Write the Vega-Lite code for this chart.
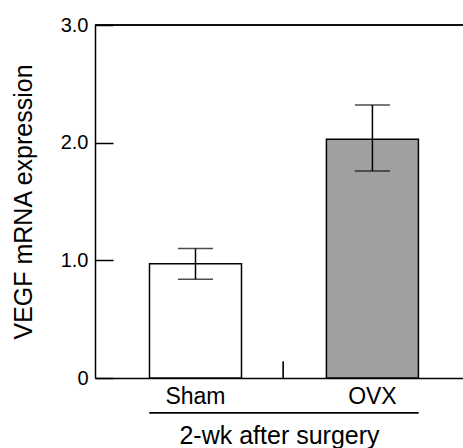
{
  "$schema": "https://vega.github.io/schema/vega-lite/v6.json",
  "autosize": "none",
  "width": 368,
  "height": 353,
  "padding": {"left": 95, "top": 25, "right": 0, "bottom": 70},
  "background": "white",
  "config": {
    "font": "Liberation Sans",
    "view": {"stroke": null},
    "axis": {"labelColor": "black", "titleColor": "black", "domainColor": "black", "tickColor": "black", "domainWidth": 1.5, "tickWidth": 1.5, "grid": false, "titleFontWeight": "normal"}
  },
  "data": {"values": [
    {"group": "Sham", "value": 0.97, "lo": 0.84, "hi": 1.10},
    {"group": "OVX", "value": 2.03, "lo": 1.76, "hi": 2.32}
  ]},
  "encoding": {
    "x": {"field": "group", "type": "nominal", "sort": ["Sham", "OVX"],
      "scale": {"paddingInner": 0.48, "paddingOuter": 0.28, "align": 0.55},
      "axis": {"title": "2-wk after surgery", "labelAngle": 0, "ticks": false, "labelFontSize": 23, "labelPadding": 7, "titleFontSize": 25, "titlePadding": 15}}
  },
  "layer": [
    {
      "mark": {"type": "bar", "stroke": "black", "strokeWidth": 1.5},
      "encoding": {
        "y": {"field": "value", "type": "quantitative",
          "scale": {"domain": [0, 3], "nice": false},
          "axis": {"title": "VEGF mRNA expression", "values": [0, 1, 2, 3], "labelExpr": "datum.value == 0 ? '0' : format(datum.value, '.1f')", "tickSize": -18, "labelPadding": 25, "labelFontSize": 20, "titleFontSize": 25, "titlePadding": 24}},
        "fill": {"field": "group", "type": "nominal", "scale": {"domain": ["Sham", "OVX"], "range": ["#ffffff", "#a0a0a0"]}, "legend": null}
      }
    },
    {
      "mark": {"type": "rule", "color": "black", "strokeWidth": 1.5},
      "encoding": {"y": {"field": "lo", "type": "quantitative"}, "y2": {"field": "hi"}}
    },
    {
      "mark": {"type": "tick", "color": "black", "thickness": 1.5, "size": 35},
      "encoding": {"y": {"field": "lo", "type": "quantitative"}}
    },
    {
      "mark": {"type": "tick", "color": "black", "thickness": 1.5, "size": 35},
      "encoding": {"y": {"field": "hi", "type": "quantitative"}}
    },
    {
      "mark": {"type": "rule", "color": "black", "strokeWidth": 1.5},
      "encoding": {"y": {"datum": 3}, "x": null}
    },
    {
      "mark": {"type": "rule", "color": "black", "strokeWidth": 1.2},
      "encoding": {"x": {"datum": "OVX", "bandPosition": -0.47}, "y": {"datum": 0}, "y2": {"datum": 0.14}}
    },
    {
      "mark": {"type": "rule", "color": "black", "strokeWidth": 1.5},
      "encoding": {"x": {"datum": "Sham", "bandPosition": 0}, "x2": {"datum": "OVX", "bandPosition": 1}, "y": {"datum": -0.295}}
    }
  ]
}
